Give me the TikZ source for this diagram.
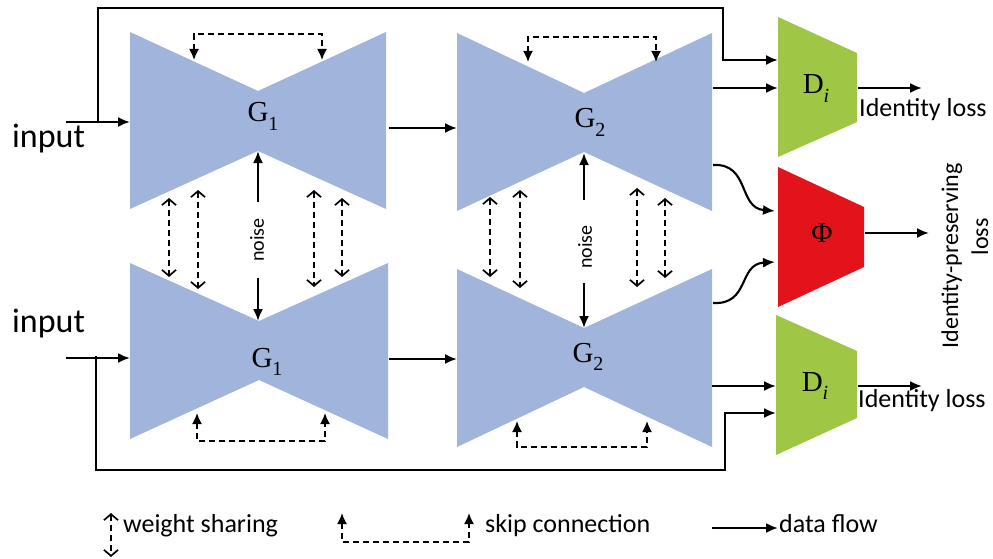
\documentclass[tikz,border=0pt]{standalone}
\usepackage{fontspec}
\setmainfont{Carlito}
\newfontfamily\serifg{Liberation Serif}
\usetikzlibrary{arrows.meta}
\definecolor{gblue}{RGB}{160,180,220}
\definecolor{dgreen}{RGB}{160,198,70}
\definecolor{pred}{RGB}{227,19,27}
\newcommand\drawbowtie[7]{% L, R, T, B, W, wt, wb
  \fill[gblue] (#1,#3) -- (#5,#6) -- (#2,#3) -- (#2,#4) -- (#5,#7) -- (#1,#4) -- cycle;}
\newcommand\gsub[2]{#1\raisebox{-0.28em}{\fontsize{20}{22}\selectfont #2}}
\tikzset{
  dline/.style={line width=2.1pt, line join=miter},
  darrow/.style={dline, -{Latex[length=12pt,width=10pt]}},
  wsh/.style={line width=1.7pt, dash pattern=on 6pt off 4pt,
    {Straight Barb[length=6pt,width=14pt,line width=1.7pt]}-{Straight Barb[length=6pt,width=14pt,line width=1.7pt]}},
  skp/.style={line width=1.7pt, dash pattern=on 6pt off 4pt,
    {Latex[length=11pt,width=10pt]}-{Latex[length=11pt,width=10pt]}},
  glabel/.style={font=\serifg\fontsize{29}{32}\selectfont, anchor=base, inner sep=0pt},
  txt/.style={font=\fontsize{26}{30}\selectfont, anchor=base west, inner sep=0pt},
  bigtxt/.style={font=\fontsize{34}{40}\selectfont, anchor=base west, inner sep=0pt},
  noisetxt/.style={font=\fontsize{20}{24}\selectfont, rotate=90, inner sep=0pt},
}
\begin{document}
\begin{tikzpicture}[x=1pt,y=-1pt]
\useasboundingbox (0,0) rectangle (993,559);
% generators
\drawbowtie{130}{386}{32}{209}{258}{91}{151}
\drawbowtie{457}{712}{33}{211}{584}{93}{152}
\drawbowtie{130}{388}{263}{439}{259}{321}{380}
\drawbowtie{457}{712}{269}{447}{584}{328}{387}
\node[glabel] (g1a) at (263,122) {\gsub{G}{1}};
\node[glabel] (g2a) at (590,128) {\gsub{G}{2}};
\node[glabel] (g1b) at (267,367) {\gsub{G}{1}};
\node[glabel] (g2b) at (588,362) {\gsub{G}{2}};
% discriminators and Phi
\fill[dgreen] (778,17) -- (857,53) -- (857,122) -- (778,157) -- cycle;
\fill[pred] (778,167) -- (864,207) -- (864,267) -- (778,307) -- cycle;
\fill[dgreen] (776,315) -- (857,351) -- (857,418) -- (776,455) -- cycle;
\node[glabel] (da) at (816,94) {\gsub{D}{\itshape i}};
\node[glabel] (db) at (815,391) {\gsub{D}{\itshape i}};
\node[glabel, anchor=center] (phi) at (822,233) {Φ};
% texts
\node[bigtxt] (inA) at (12,148) {input};
\node[bigtxt] (inB) at (12,332) {input};
\node[txt] (idA) at (859,117) {Identity loss};
\node[txt] (idB) at (858,407) {Identity loss};
\node[font=\fontsize{24}{28}\selectfont, rotate=90, anchor=base, inner sep=0pt] (ipl) at (958,256) {Identity-preserving};
\node[font=\fontsize{24}{28}\selectfont, rotate=90, anchor=base, inner sep=0pt] (ipl2) at (988,237) {loss};
\node[noisetxt] (nA) at (257,240) {noise};
\node[noisetxt] (nB) at (585,247) {noise};
% coordinates
\coordinate (inA0) at (66,122); \coordinate (g1a-in) at (130,122);
\coordinate (g1a-out) at (389,128); \coordinate (g2a-in) at (457,128);
\coordinate (brA) at (98,122); \coordinate (topR) at (723,8);
\coordinate (da-in2) at (778,60);
\coordinate (g2a-out) at (713,88); \coordinate (da-in) at (778,88);
\coordinate (da-out) at (858,88); \coordinate (da-end) at (922,88);
\coordinate (g2a-c) at (713,165); \coordinate (phi-in1) at (775,211);
\coordinate (g2b-c) at (713,303); \coordinate (phi-in2) at (775,262);
\coordinate (phi-out) at (865,233); \coordinate (phi-end) at (929,233);
\coordinate (inB0) at (66,358); \coordinate (g1b-in) at (130,358);
\coordinate (g1b-out) at (389,359); \coordinate (g2b-in) at (457,359);
\coordinate (brB) at (96,356); \coordinate (botR) at (725,470);
\coordinate (db-in2) at (776,413);
\coordinate (g2b-out) at (712,386); \coordinate (db-in) at (776,386);
\coordinate (db-out) at (858,386); \coordinate (db-end) at (922,386);
% data flow
\draw[darrow] (inA0) -- (g1a-in);
\draw[darrow] (g1a-out) -- (g2a-in);
\draw[darrow] (brA) |- (topR) |- (da-in2);
\draw[darrow] (g2a-out) -- (da-in);
\draw[darrow] (da-out) -- (da-end);
\draw[darrow] (g2a-c) .. controls (750,163) and (738,208) .. (phi-in1);
\draw[darrow] (g2b-c) .. controls (750,305) and (738,264) .. (phi-in2);
\draw[darrow] (phi-out) -- (phi-end);
\draw[darrow] (inB0) -- (g1b-in);
\draw[darrow] (g1b-out) -- (g2b-in);
\draw[darrow] (brB) |- (botR) |- (db-in2);
\draw[darrow] (g2b-out) -- (db-in);
\draw[darrow] (db-out) -- (db-end);
% noise
\coordinate (nA-up) at (258,202); \coordinate (g1a-wb) at (258,151);
\coordinate (nA-dn) at (258,278); \coordinate (g1b-wt) at (258,321);
\coordinate (nB-up) at (584,200); \coordinate (g2a-wb) at (584,153);
\coordinate (nB-dn) at (584,283); \coordinate (g2b-wt) at (584,328);
\draw[darrow] (nA-up) -- (g1a-wb);
\draw[darrow] (nA-dn) -- (g1b-wt);
\draw[darrow] (nB-up) -- (g2a-wb);
\draw[darrow] (nB-dn) -- (g2b-wt);
% weight sharing
\foreach \x/\a/\b in {169/198/277, 198/190/289, 314/190/287, 342/198/277,
                      490/197/277, 520/190/288, 637/188/287, 665/198/278}
  \draw[wsh] (\x,\a) -- (\x,\b);
% skip connections
\draw[skp] (194,60) -- (194,34) -- (322,34) -- (322,60);
\draw[skp] (528,62) -- (528,37) -- (656,37) -- (656,62);
\draw[skp] (197,413) -- (197,441) -- (325,441) -- (325,413);
\draw[skp] (517,421) -- (517,447) -- (647,447) -- (647,421);
% legend
\draw[wsh] (111,513) -- (111,557);
\node[txt] (lw) at (123,532) {weight sharing};
\draw[skp] (342,513) -- (342,542) -- (469,542) -- (469,513);
\node[txt] (ls) at (485,532) {skip connection};
\coordinate (lf0) at (712,528); \coordinate (lf1) at (778,528);
\draw[darrow] (lf0) -- (lf1);
\node[txt] (lf) at (779,532) {data flow};
\end{tikzpicture}
\end{document}
